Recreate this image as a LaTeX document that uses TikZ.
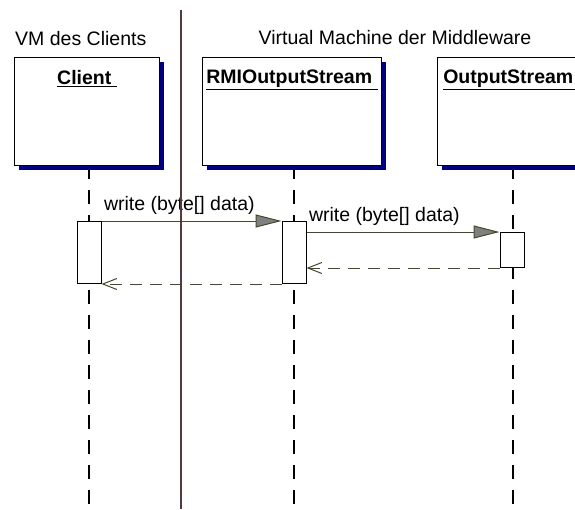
\documentclass[tikz,border=0pt]{standalone}
\usepackage{fontspec}
\setmainfont{Liberation Sans}
\usetikzlibrary{arrows.meta,shadows,positioning}
\definecolor{shadowblue}{RGB}{0,0,128}
\definecolor{msgolive}{RGB}{72,72,40}
\definecolor{splitbrown}{RGB}{80,60,60}

\begin{document}
\begin{tikzpicture}
[   x=1pt,y=-1pt,
    font=\fontsize{19.5}{22}\selectfont,
    obj/.style={draw=black,line width=1pt,fill=white,anchor=north west,inner sep=0pt,
        minimum width=#1,minimum height=108pt,
        drop shadow={shadow xshift=4pt,shadow yshift=-4pt,fill=shadowblue,opacity=1}},
    objname/.style={anchor=north,inner sep=0pt,font=\fontsize{19.5}{22}\selectfont\bfseries},
    act/.style={draw=black,line width=1pt,fill=white,inner sep=0pt,minimum width=24pt,
        minimum height=#1,anchor=north},
    life/.style={draw=black,line width=1.2pt,dash pattern=on 14pt off 11pt},
    call/.style={draw=msgolive,line width=1pt,-{Triangle[length=26pt,width=13pt,fill=gray]}},
    reply/.style={draw=msgolive,line width=1pt,dash pattern=on 12pt off 8pt,
        -{Straight Barb[length=14pt,width=11pt]}},
    msglabel/.style={pos=0,anchor=south west,inner sep=0pt,yshift=5.5pt,xshift=2pt},
]
    \useasboundingbox (0,0) rectangle (575,509);
    \clip (0,0) rectangle (575,509);
    % objects and their lifelines
    \foreach \n/\x/\w/\t/\l in {cl/14/145/Client/89,rmi/202/179/RMIOutputStream/294,os/437/147/OutputStream/513}
    {   \coordinate (\n-end) at (\l,509);
        \draw[life] (\n-end |- 0,165) -- (\n-end);
        \node[obj=\w pt] (\n) at (\x,57) {};
        \node[objname] (\n-name) at ([yshift=-13pt]\n.north) {\underline{\t\ }};
    }
    % activations
    \node[act=62pt] (cl-a) at (89,221) {};
    \node[act=62pt] (rmi-a) at (294,221) {};
    \node[act=35pt] (os-a) at (512,232) {};
    % messages
    \draw[call] (cl-a.north east) -- node[msglabel] {write (byte[] data)} (rmi-a.north west);
    \draw[call] (rmi-a.east |- os-a.north) -- node[msglabel] {write (byte[] data)} (os-a.north west);
    \draw[reply] (os-a.south west) -- (rmi-a.east |- os-a.south);
    \draw[reply] (rmi-a.south west) -- (cl-a.south east);
    % the two machines
    \node[anchor=base west,inner sep=0pt] (vm-cl) at (15,45) {VM des Clients};
    \node[anchor=base,inner sep=0pt] (vm-mw) at (395,44.5) {Virtual Machine der Middleware};
    \coordinate (split-top) at (181,10);
    \coordinate (split-bot) at (181,509);
    \draw[splitbrown,line width=1.2pt] (split-top) -- (split-bot);
\end{tikzpicture}
\end{document}
